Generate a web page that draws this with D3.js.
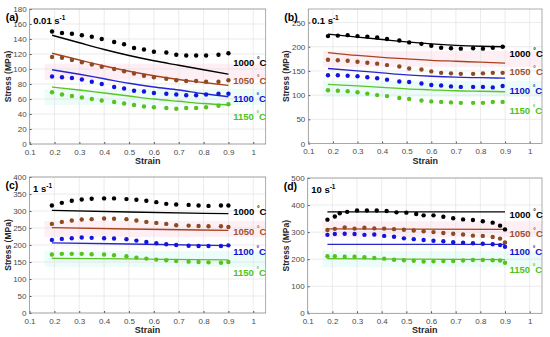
<!DOCTYPE html>
<html>
<head>
<meta charset="utf-8">
<script src="https://cdn.jsdelivr.net/npm/d3@7"></script>
<style>
  body { margin: 0; background: #fff; }
  svg { font-family: "Liberation Sans", Arial, sans-serif; }
</style>
</head>
<body>
<svg width="550" height="337"></svg>
<script>
// temperatures and colours
const temps = ['1000', '1050', '1100', '1150'];
const dotColors = ['#000000', '#8e4a22', '#1414e0', '#55c21e'];
const lineColors = ['#000000', '#a8431e', '#2626d0', '#5cc424'];
const textColors = ['#000000', '#a0522d', '#1010d0', '#4dc41c'];

const xTicks = [0.1, 0.2, 0.3, 0.4, 0.5, 0.6, 0.7, 0.8, 0.9, 1];

// (a) 0.01 s-1
const strainA = [0.19, 0.23, 0.27, 0.31, 0.35, 0.39, 0.44, 0.48, 0.52, 0.56, 0.6, 0.65, 0.69, 0.73, 0.77, 0.81, 0.86, 0.9];
const a1000 = [150, 148, 147, 145, 143, 140, 136, 133, 128, 126, 123, 122, 119, 118, 118, 118, 119, 121];
const a1050 = [116, 115, 112, 109, 106, 103, 100, 97, 94, 91, 89, 87, 85, 84, 84, 83, 83, 85];
const a1100 = [90, 89, 88, 86, 83, 80, 76, 74, 71, 70, 68, 67, 66, 65, 65, 66, 67, 67];
const a1150 = [69, 66, 64, 62, 60, 58, 56, 54, 52, 50, 49, 48, 47, 48, 48, 49, 51, 53];
const fitStrainA = [0.19, 0.3, 0.4, 0.5, 0.6, 0.7, 0.8, 0.9];
const aFit1000 = [145, 135, 126, 118, 111, 105, 99, 93];
const aFit1050 = [121, 112, 104, 97, 91, 86, 82, 78];
const aFit1100 = [99, 93, 87, 81, 76, 72, 67, 63];
const aFit1150 = [76, 72, 68, 64, 60, 57, 54, 52];
const yTicksA = [0, 20, 40, 60, 80, 100, 120, 140, 160, 180];

// (b) 0.1 s-1
const strainB = [0.18, 0.22, 0.26, 0.3, 0.34, 0.38, 0.42, 0.47, 0.51, 0.56, 0.6, 0.64, 0.68, 0.72, 0.77, 0.81, 0.85, 0.89];
const b1000 = [222, 223, 224, 222, 221, 219, 216, 213, 209, 206, 202, 198, 197, 196, 197, 196, 198, 200];
const b1050 = [173, 172, 171, 169, 167, 165, 162, 159, 155, 153, 149, 146, 145, 144, 144, 145, 146, 146];
const b1100 = [141, 141, 140, 139, 137, 135, 132, 128, 127, 124, 121, 120, 118, 117, 117, 117, 116, 119];
const b1150 = [110, 109, 108, 106, 103, 100, 98, 94, 92, 89, 87, 86, 85, 84, 84, 84, 86, 86];
const fitStrainB = [0.18, 0.3, 0.4, 0.5, 0.6, 0.7, 0.8, 0.9];
const bFit1000 = [226, 220, 215, 210, 206, 203, 201, 200];
const bFit1050 = [188, 182, 178, 175, 172, 170, 168, 166];
const bFit1100 = [155, 150, 146, 142, 139, 137, 136, 135];
const bFit1150 = [122, 119, 116, 113, 111, 109, 108, 107];
const yTicksB = [0, 50, 100, 150, 200, 250];

// (c) 1 s-1
const strainC = [0.19, 0.23, 0.27, 0.31, 0.35, 0.4, 0.44, 0.49, 0.53, 0.57, 0.61, 0.65, 0.69, 0.74, 0.78, 0.82, 0.87, 0.9];
const c1000 = [316, 324, 330, 334, 336, 337, 337, 335, 333, 330, 326, 321, 319, 318, 316, 315, 316, 316];
const c1050 = [262, 268, 272, 275, 276, 278, 277, 276, 272, 268, 265, 262, 258, 257, 256, 255, 255, 253];
const c1100 = [215, 218, 220, 222, 221, 220, 219, 217, 213, 209, 205, 202, 200, 198, 197, 197, 197, 199];
const c1150 = [172, 174, 174, 174, 173, 172, 170, 167, 163, 160, 157, 155, 153, 151, 150, 149, 148, 150];
const fitStrainC = [0.19, 0.5, 0.9];
const cFit1000 = [302, 297, 292];
const cFit1050 = [251, 247, 243];
const cFit1100 = [206, 203, 198];
const cFit1150 = [161, 159, 156];
const yTicksC = [0, 50, 100, 150, 200, 250, 300, 350, 400];

// (d) 10 s-1
const strainD1000 = [0.18, 0.21, 0.23, 0.26, 0.3, 0.34, 0.38, 0.42, 0.46, 0.5, 0.54, 0.57, 0.61, 0.65, 0.69, 0.73, 0.77, 0.81, 0.85, 0.88, 0.9];
const strainD = [0.18, 0.21, 0.25, 0.29, 0.33, 0.37, 0.41, 0.45, 0.49, 0.53, 0.57, 0.61, 0.65, 0.69, 0.73, 0.77, 0.81, 0.85, 0.88, 0.9];
const d1000 = [346, 358, 370, 375, 380, 380, 380, 378, 373, 372, 367, 362, 362, 357, 351, 347, 345, 340, 335, 324, 310];
const d1050 = [308, 312, 317, 313, 316, 314, 313, 311, 309, 306, 303, 300, 297, 294, 291, 287, 286, 282, 276, 262];
const d1100 = [290, 293, 294, 293, 290, 291, 286, 283, 277, 274, 271, 268, 266, 263, 261, 259, 257, 255, 252, 246];
const d1150 = [211, 211, 209, 209, 207, 205, 202, 198, 196, 194, 191, 192, 193, 193, 195, 197, 197, 196, 195, 187];
const fitStrainD = [0.18, 0.5, 0.9];
const dFit1000 = [375, 375, 375];
const dFit1050 = [312, 311, 310];
const dFit1100 = [255, 255, 255];
const dFit1150 = [202, 200, 198];
const yTicksD = [0, 100, 200, 300, 400, 500];

const svg = d3.select('svg');

const panels = [
  { tag: '(a)', rate: '0.01', box: [29.7, 265.7, 9, 144], yMax: 180, yTicks: yTicksA,
    dotX: [strainA, strainA, strainA, strainA], dots: [a1000, a1050, a1100, a1150],
    fitX: fitStrainA, fits: [aFit1000, aFit1050, aFit1100, aFit1150],
    labelY: [62, 80, 98, 116] },
  { tag: '(b)', rate: '0.1', box: [308.3, 542, 9, 143.5], yMax: 278, yTicks: yTicksB,
    dotX: [strainB, strainB, strainB, strainB], dots: [b1000, b1050, b1100, b1150],
    fitX: fitStrainB, fits: [bFit1000, bFit1050, bFit1100, bFit1150],
    labelY: [53, 71.5, 90, 110] },
  { tag: '(c)', rate: '1', box: [29.5, 265.7, 177, 313], yMax: 400, yTicks: yTicksC,
    dotX: [strainC, strainC, strainC, strainC], dots: [c1000, c1050, c1100, c1150],
    fitX: fitStrainC, fits: [cFit1000, cFit1050, cFit1100, cFit1150],
    labelY: [211.5, 231.5, 251.5, 272.5] },
  { tag: '(d)', rate: '10', box: [307.7, 542, 178, 313.3], yMax: 500, yTicks: yTicksD,
    dotX: [strainD1000, strainD, strainD, strainD], dots: [d1000, d1050, d1100, d1150],
    fitX: fitStrainD, fits: [dFit1000, dFit1050, dFit1100, dFit1150],
    labelY: [214.5, 233.5, 251.5, 269] }
];

panels.forEach(p => {
  const [xl, xr, yt, yb] = p.box;
  const x = d3.scaleLinear().domain([0.1, 1.05]).range([xl, xr]);
  const y = d3.scaleLinear().domain([0, p.yMax]).range([yb, yt]);
  const g = svg.append('g');

  // faint highlight bands behind the 1050 and 1150 rows
  const bandColors = [null, '#fde8f1', null, '#e3fbf7'];
  [1, 3].forEach(k => {
    const mid = d3.mean(p.fits[k]);
    g.append('rect')
      .attr('x', x(0.16)).attr('width', xr - x(0.16))
      .attr('y', y(mid) - 8)
      .attr('height', 16)
      .attr('fill', bandColors[k]).attr('opacity', 0.7);
  });

  // grid
  g.selectAll('.gx').data(xTicks).join('line')
    .attr('x1', d => x(d)).attr('x2', d => x(d))
    .attr('y1', yt).attr('y2', yb)
    .attr('stroke', '#e3e3e3').attr('stroke-width', 0.7);
  g.selectAll('.gy').data(p.yTicks).join('line')
    .attr('x1', xl).attr('x2', xr)
    .attr('y1', d => y(d)).attr('y2', d => y(d))
    .attr('stroke', '#e3e3e3').attr('stroke-width', 0.7);

  // axes
  const xAxis = g.append('g')
    .attr('transform', `translate(0,${yb})`)
    .call(d3.axisBottom(x).tickValues(xTicks).tickSize(-2).tickPadding(5)
      .tickFormat(d3.format('~g')));
  const yAxis = g.append('g')
    .attr('transform', `translate(${xl},0)`)
    .call(d3.axisLeft(y).tickValues(p.yTicks).tickSize(-2).tickPadding(3));
  [xAxis, yAxis].forEach(a => {
    a.select('.domain').remove();
    a.selectAll('line').attr('stroke', '#555');
    a.selectAll('text').attr('fill', '#4a4a4a').style('font-size', '8px')
      .style('font-family', '"Liberation Sans", Arial, sans-serif');
  });

  g.append('rect')
    .attr('x', xl).attr('y', yt).attr('width', xr - xl).attr('height', yb - yt)
    .attr('fill', 'none').attr('stroke', '#8a8a8a').attr('stroke-width', 0.7);

  // fitted lines
  const line = d3.line().curve(d3.curveMonotoneX);
  p.fits.forEach((f, k) => {
    g.append('path')
      .attr('d', line(f.map((v, i) => [x(p.fitX[i]), y(v)])))
      .attr('fill', 'none').attr('stroke', lineColors[k]).attr('stroke-width', 1.3);
  });

  // experimental dots
  p.dots.forEach((s, k) => {
    g.selectAll(null).data(s).join('circle')
      .attr('cx', (d, i) => x(p.dotX[k][i]))
      .attr('cy', d => y(d))
      .attr('r', 2.2)
      .attr('fill', dotColors[k]);
  });

  // temperature labels
  temps.forEach((t, k) => {
    const txt = g.append('text')
      .attr('x', xr - 32.5).attr('y', p.labelY[k] + 3.5)
      .attr('fill', textColors[k])
      .style('font-size', '9.5px').style('font-weight', 'bold');
    txt.append('tspan').text(t + ' ');
    txt.append('tspan').text('°').attr('dy', -4).style('font-size', '6.5px');
    txt.append('tspan').text('C').attr('dy', 4);
  });

  // strain rate label
  const rt = g.append('text')
    .attr('x', xl + 3.5).attr('y', yt + 14.5)
    .style('font-size', '9.5px').style('font-weight', 'bold');
  rt.append('tspan').text(p.rate + ' s');
  rt.append('tspan').text('-1').attr('dy', -4).style('font-size', '6.5px');

  // panel tag
  g.append('text')
    .attr('x', xl - 24).attr('y', yt + 11.5)
    .style('font-size', '10.5px').style('font-weight', 'bold')
    .text(p.tag);

  // axis titles
  g.append('text')
    .attr('x', (xl + xr) / 2).attr('y', yb + 20)
    .attr('text-anchor', 'middle')
    .style('font-size', '9px').style('font-weight', 'bold').attr('fill', '#262626')
    .text('Strain');
  g.append('text')
    .attr('transform', `translate(${xl - 19},${(yt + yb) / 2}) rotate(-90)`)
    .attr('text-anchor', 'middle')
    .style('font-size', '8.5px').style('font-weight', 'bold').attr('fill', '#262626')
    .text('Stress (MPa)');
});
</script>
</body>
</html>
